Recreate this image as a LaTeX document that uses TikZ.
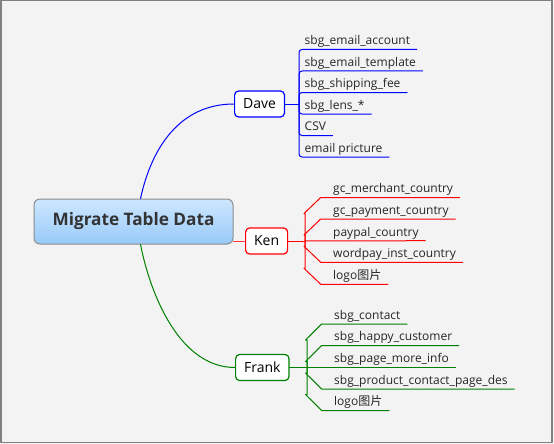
\documentclass[tikz,border=0pt]{standalone}
\usepackage{fontspec}
\setmainfont{Open Sans}
\newfontfamily\cjk{Noto Sans CJK SC}
\usepackage{tikz}
\usetikzlibrary{calc}
\definecolor{daveblue}{RGB}{0,0,255}
\definecolor{kenred}{RGB}{255,0,0}
\definecolor{frankgreen}{RGB}{0,128,0}
\definecolor{bggray}{RGB}{243,243,243}
\definecolor{framegray}{RGB}{128,128,128}
\definecolor{topicgray}{RGB}{140,140,140}
\definecolor{topictop}{RGB}{206,231,255}
\definecolor{topicbot}{RGB}{152,202,248}
\definecolor{inkgray}{RGB}{51,51,51}
\tikzset{
  topic/.style={draw=topicgray,line width=1pt,rounded corners=6pt,top color=topictop,bottom color=topicbot,
    minimum width=199pt,minimum height=45pt,text=inkgray,font=\fontsize{17.2}{20}\selectfont\bfseries},
  branch/.style={fill=white,line width=1.2pt,rounded corners=4pt,anchor=west,inner xsep=8.5pt,
    minimum height=26pt,font=\fontsize{14}{16}\selectfont},
  leaf/.style={anchor=south west,inner xsep=6.5pt,inner ysep=1.5pt,text height=9pt,text depth=3pt,
    text=black!85,font=\fontsize{12}{14}\selectfont},
  daveline/.style={daveblue,line width=1pt,rounded corners=3pt},
  kenline/.style={kenred,line width=1pt},
  frankline/.style={frankgreen,line width=1pt}
}

\begin{document}
\begin{tikzpicture}[line cap=round,line join=round,x=1pt,y=-1pt]
		\useasboundingbox (0,0) rectangle (554,444);
		\fill[bggray] (0,0) rectangle (554,444);
		\draw[framegray,line width=1.5pt] (0.75,0.75) rectangle (551.75,442.25);
		% central topic and the three branches
		\node[topic] (mtd) at (133.5,221.5) {Migrate Table Data};
		\node[branch,draw=daveblue] (dave) at (234,104) {Dave};
		\node[branch,draw=kenred] (ken) at (245,241) {Ken};
		\node[branch,draw=frankgreen] (frank) at (235,367.5) {Frank};
		\draw[daveblue,line width=1pt] (mtd.73) .. controls +(11,-51) and +(-54,0) .. (dave.west);
		\draw[kenred!80,line width=1pt] (mtd.east |- ken.west) -- (ken.west);
		\draw[frankgreen,line width=1pt] (mtd.-73) .. controls +(10,51) and +(-55,0) .. (frank.west);
		% Dave
		\coordinate (daveJ) at ($(dave.east)+(14,0)$);
		\draw[daveline] (dave.east) -- (daveJ);
		\node[leaf] (d1) at (298,49.5) {sbg\_email\_account};
		\node[leaf] (d2) at (298,71) {sbg\_email\_template};
		\node[leaf] (d3) at (298,92.5) {sbg\_shipping\_fee};
		\node[leaf] (d4) at (298,114) {sbg\_lens\_*};
		\node[leaf] (d5) at (298,135.5) {CSV};
		\node[leaf] (d6) at (298,157) {email pricture};
		\draw[daveline] (daveJ) |- (d1.south east);
		\draw[daveline] (daveJ) |- (d2.south east);
		\draw[daveline] (daveJ) |- (d3.south east);
		\draw[daveline] (daveJ) |- (d4.south east);
		\draw[daveline] (daveJ) |- (d5.south east);
		\draw[daveline] (daveJ) |- (d6.south east);
		% Ken
		\coordinate (kenJ) at ($(ken.east)+(17,0)$);
		\draw[kenline] (ken.east) -- (kenJ);
		\node[leaf] (k1) at (326.5,197.5) {gc\_merchant\_country};
		\node[leaf] (k2) at (326.5,219) {gc\_payment\_country};
		\node[leaf] (k3) at (326.5,240.7) {paypal\_country};
		\node[leaf] (k4) at (326.5,262.3) {wordpay\_inst\_country};
		\node[leaf] (k5) at (326.5,284.3) {logo{\cjk 图片}};
		\draw[kenline] (kenJ) |- ([shift={(-22.5,16)}]k1.south west) -- ([shift={(-5.8,0)}]k1.south west) -- (k1.south east);
		\draw[kenline] (kenJ) |- ([shift={(-22.5,16)}]k2.south west) -- ([shift={(-5.8,0)}]k2.south west) -- (k2.south east);
		\draw[kenline] (kenJ) -- (k3.south east);
		\draw[kenline] (kenJ) |- ([shift={(-22.5,-16)}]k4.south west) -- ([shift={(-5.8,0)}]k4.south west) -- (k4.south east);
		\draw[kenline] (kenJ) |- ([shift={(-22.5,-16)}]k5.south west) -- ([shift={(-5.8,0)}]k5.south west) -- (k5.south east);
		% Frank
		\coordinate (frankJ) at ($(frank.east)+(17.5,0)$);
		\draw[frankline] (frank.east) -- (frankJ);
		\node[leaf] (f1) at (327.5,324) {sbg\_contact};
		\node[leaf] (f2) at (327.5,345.5) {sbg\_happy\_customer};
		\node[leaf] (f3) at (327.5,367.5) {sbg\_page\_more\_info};
		\node[leaf] (f4) at (327.5,389) {sbg\_product\_contact\_page\_des};
		\node[leaf] (f5) at (327.5,410.5) {logo{\cjk 图片}};
		\draw[frankline] (frankJ) |- ([shift={(-22,16)}]f1.south west) -- ([shift={(-5.8,0)}]f1.south west) -- (f1.south east);
		\draw[frankline] (frankJ) |- ([shift={(-22,16)}]f2.south west) -- ([shift={(-5.8,0)}]f2.south west) -- (f2.south east);
		\draw[frankline] (frankJ) -- (f3.south east);
		\draw[frankline] (frankJ) |- ([shift={(-22,-16)}]f4.south west) -- ([shift={(-5.8,0)}]f4.south west) -- (f4.south east);
		\draw[frankline] (frankJ) |- ([shift={(-22,-16)}]f5.south west) -- ([shift={(-5.8,0)}]f5.south west) -- (f5.south east);
\end{tikzpicture}
\end{document}
